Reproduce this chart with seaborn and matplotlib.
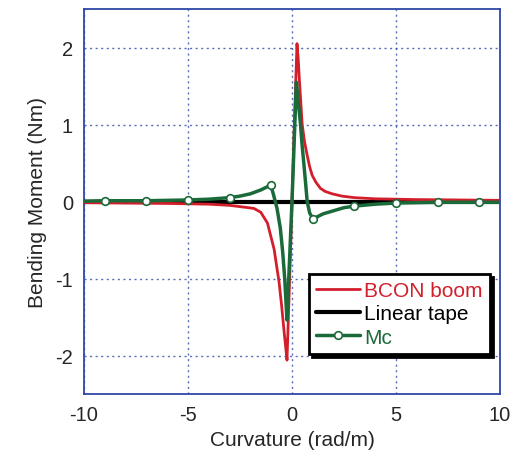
import seaborn as sns
import matplotlib
matplotlib.use('Agg')
import numpy as np
import pandas as pd
import matplotlib.pyplot as plt

# BCON boom bending moment vs curvature
x_bcon = [-10, -8, -6, -4, -3, -2.4, -1.83, -1.5, -1.18, -0.86, -0.62, -0.5, -0.38, -0.3, -0.24, -0.12, 0,
          0.12, 0.24, 0.3, 0.35, 0.42, 0.49, 0.6, 0.73, 0.85, 0.97, 1.15, 1.37, 1.6, 1.93, 2.4, 3, 4, 6, 8, 10]
m_bcon = [-0.015, -0.02, -0.025, -0.035, -0.05, -0.07, -0.09, -0.14, -0.28, -0.62, -1.05, -1.35, -1.69, -1.9, -2.06, -1.05, 0,
          1.05, 2.05, 1.85, 1.6, 1.3, 1.0, 0.78, 0.6, 0.45, 0.34, 0.25, 0.17, 0.13, 0.10, 0.07, 0.05, 0.035, 0.025, 0.02, 0.015]

# linear tape
x_tape = [-10, 10]
m_tape = [0, 0]

# Mc
x_mc = [-10, -9, -7, -5, -4, -3, -2.5, -2, -1.5, -1.2, -1.03, -0.9, -0.72, -0.56, -0.45, -0.35, -0.28, -0.24, 0,
        0.21, 0.3, 0.41, 0.48, 0.56, 0.65, 0.73, 0.85, 1.02, 1.2, 1.5, 2, 2.5, 3, 4, 5, 7, 9, 10]
m_mc = [0.005, 0.01, 0.01, 0.02, 0.03, 0.05, 0.07, 0.1, 0.15, 0.19, 0.22, 0.1, -0.09, -0.35, -0.65, -1.0, -1.35, -1.54, 0,
        1.55, 1.3, 1.0, 0.75, 0.52, 0.25, 0, -0.15, -0.23, -0.2, -0.16, -0.12, -0.08, -0.06, -0.035, -0.02, -0.01, -0.01, -0.01]
mark_x = [-9, -7, -5, -3, -1.03, 1.02, 3, 5, 7, 9]

red = '#d21f2b'
green = '#1b6a3a'
blue = '#2f48a8'

sns.set_style('white')
plt.rcParams['font.family'] = ['Liberation Sans', 'DejaVu Sans']
plt.rcParams['axes.unicode_minus'] = False

fig, ax = plt.subplots(figsize=(5.12, 4.52), dpi=100)
fig.subplots_adjust(left=84/512, right=500/512, bottom=57/452, top=442/452)

df_b = pd.DataFrame({'x': x_bcon, 'm': m_bcon})
df_t = pd.DataFrame({'x': x_tape, 'm': m_tape})
df_m = pd.DataFrame({'x': x_mc, 'm': m_mc})
mark_idx = [x_mc.index(v) for v in mark_x]

sns.lineplot(data=df_b, x='x', y='m', ax=ax, color=red, lw=2, estimator=None, label='BCON boom', zorder=3)
sns.lineplot(data=df_t, x='x', y='m', ax=ax, color='black', lw=3, estimator=None, label='Linear tape', zorder=2)
sns.lineplot(data=df_m, x='x', y='m', ax=ax, color=green, lw=2.5, estimator=None, label='Mc', zorder=4,
             marker='o', markevery=mark_idx, markersize=5.5, markerfacecolor='white',
             markeredgecolor=green, markeredgewidth=1.2)

ax.set_xlim(-10, 10)
ax.set_ylim(-2.5, 2.5)
ax.set_xticks([-10, -5, 0, 5, 10])
ax.set_yticks([-2, -1, 0, 1, 2])
ax.grid(True, color=blue, linestyle=(0, (1.5, 2.5)), lw=1, alpha=0.8)
for s in ax.spines.values():
    s.set_color(blue)
    s.set_linewidth(1.3)
ax.tick_params(direction='in', length=4, color=blue, labelsize=14.5, pad=8)

ax.set_xlabel('Curvature (rad/m)', fontsize=15, labelpad=4)
ax.set_ylabel('Bending Moment (Nm)', fontsize=15, labelpad=6)

leg = ax.legend(loc='upper right', bbox_to_anchor=(0.976, 0.312), borderaxespad=0,
                fontsize=15, handlelength=2.1, handletextpad=0.2, labelspacing=0.2,
                borderpad=0.35, fancybox=False, framealpha=1,
                shadow={'color': 'black', 'alpha': 1})
leg.get_frame().set_edgecolor('black')
leg.get_frame().set_linewidth(2)
for t, c in zip(leg.get_texts(), [red, 'black', green]):
    t.set_color(c)

plt.savefig('out.png', dpi=100)
plt.close()
